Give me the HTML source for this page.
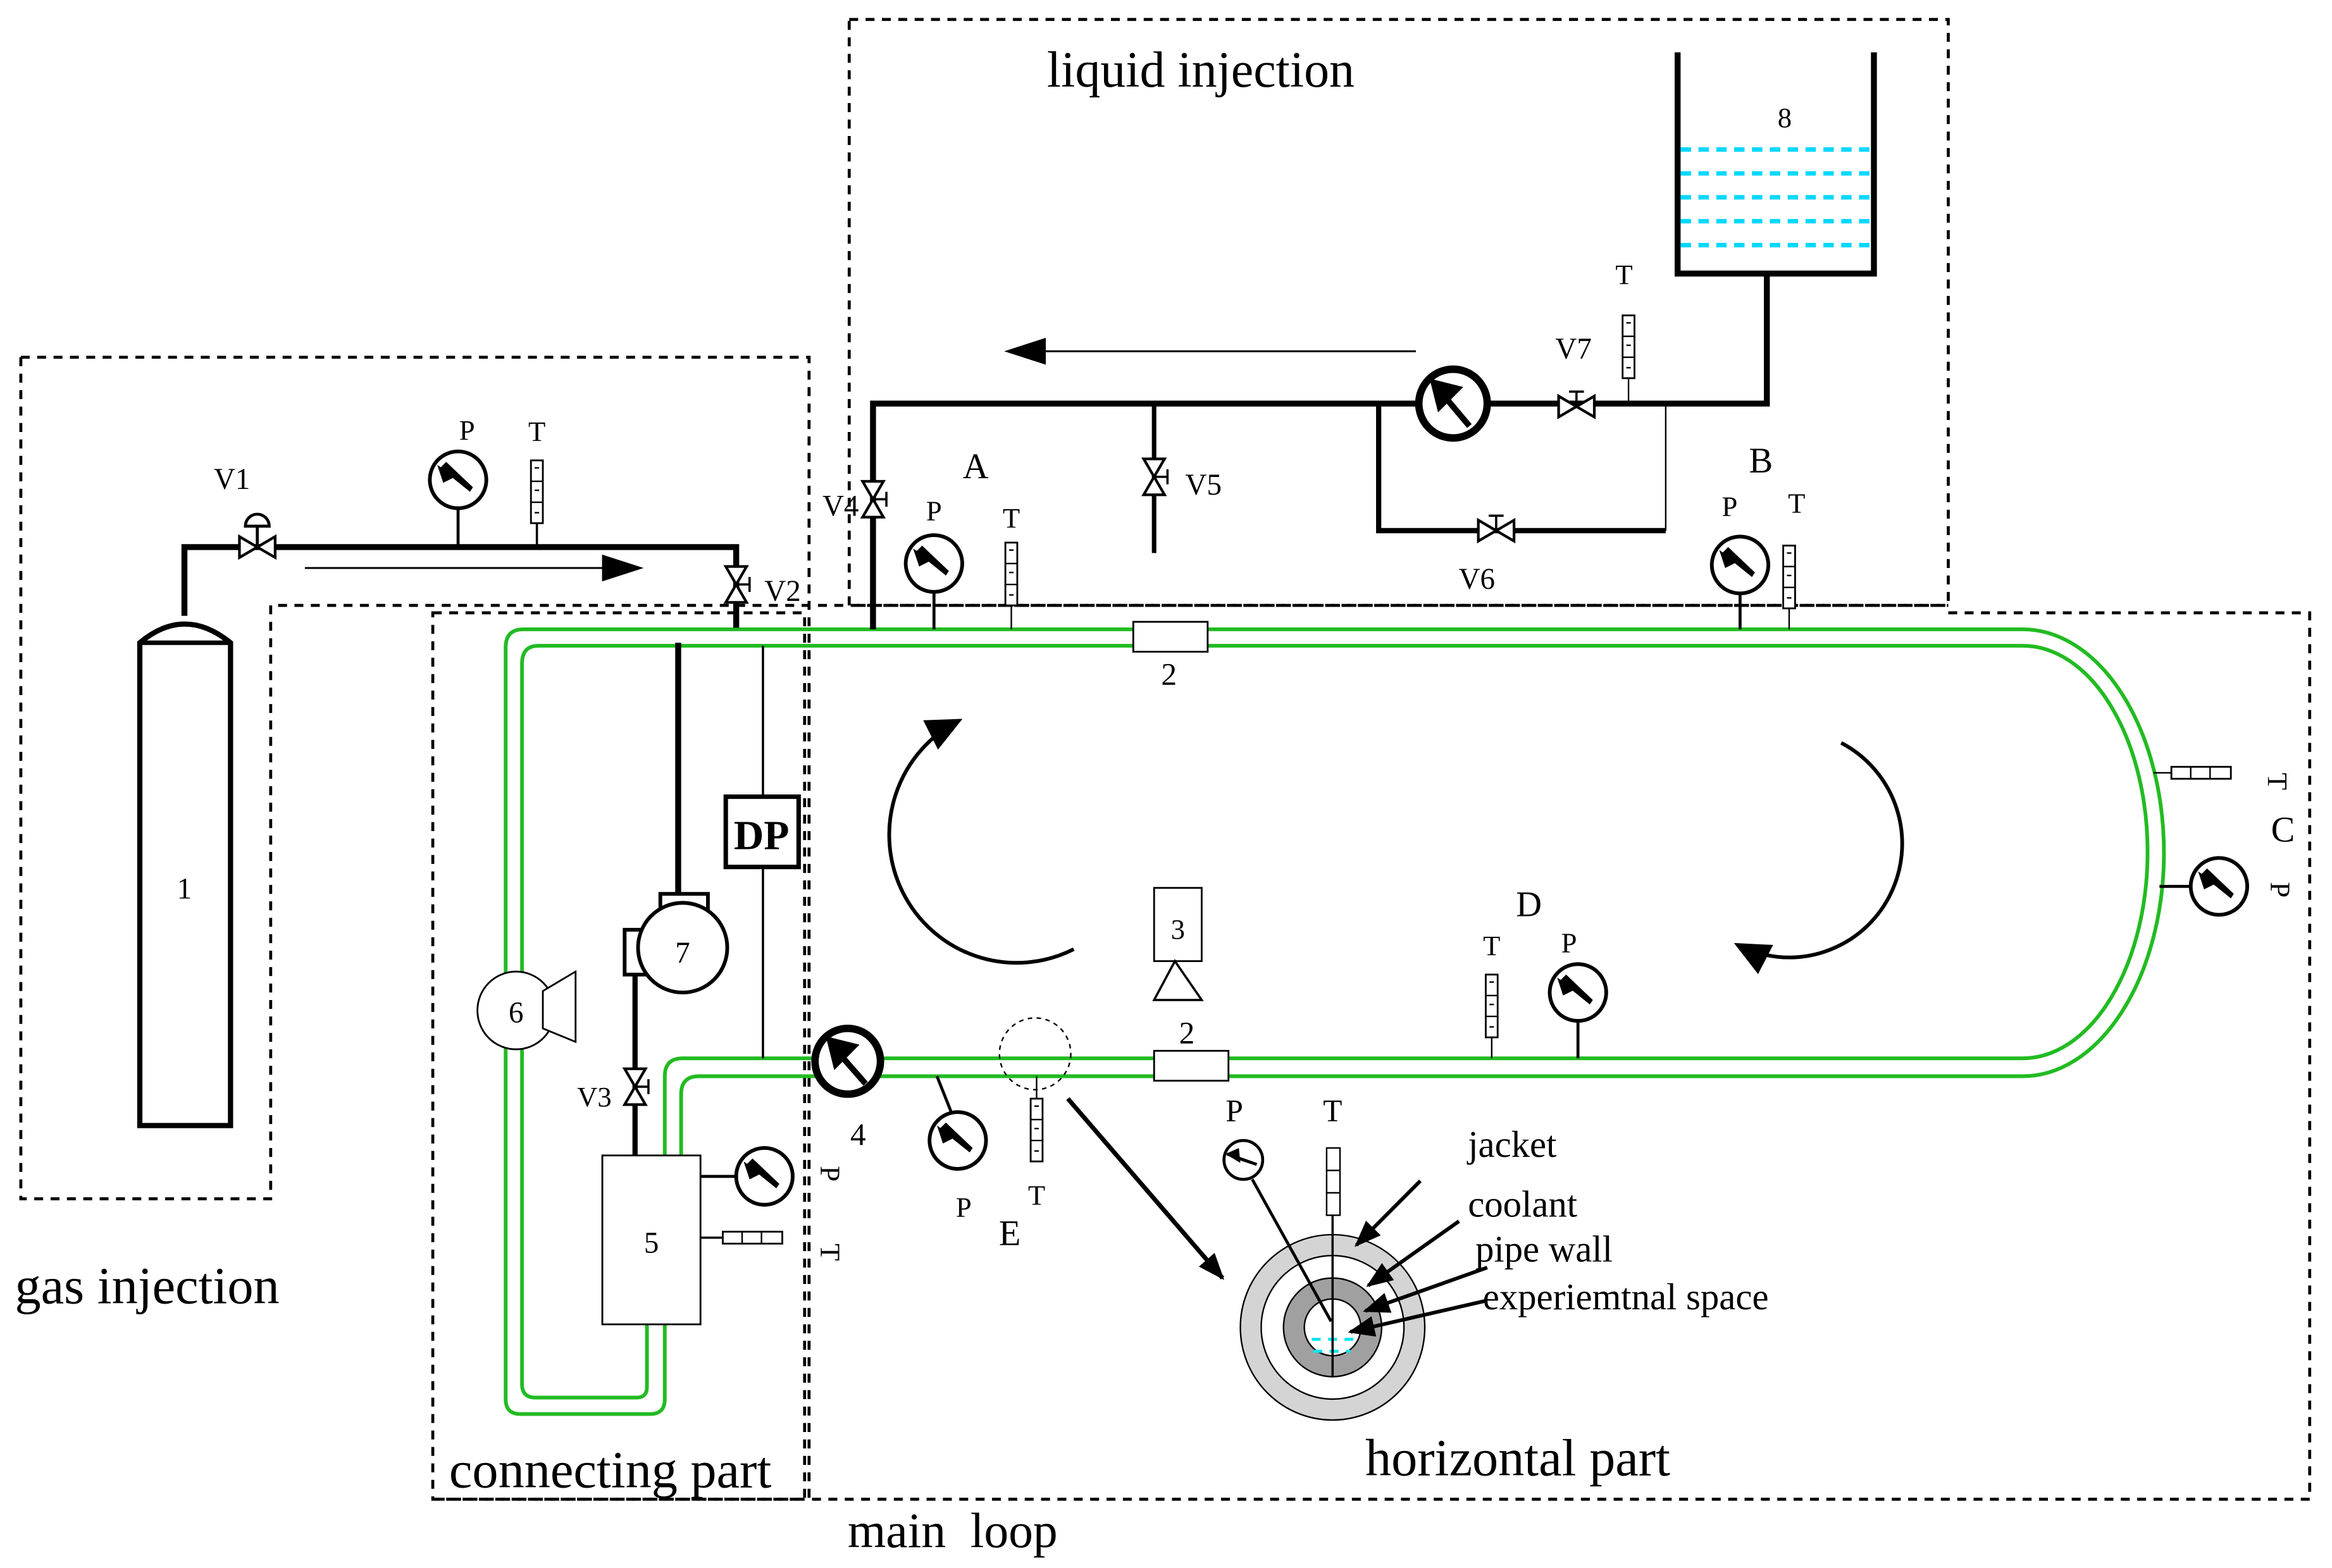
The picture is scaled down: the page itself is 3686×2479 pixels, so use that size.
<!DOCTYPE html>
<html><head><meta charset="utf-8"><style>html,body{margin:0;padding:0;background:#fff;width:3686px;height:2479px;overflow:hidden}svg{display:block}text{font-family:"Liberation Serif",serif;fill:#000}</style></head>
<body>
<svg width="3686" height="2479" viewBox="0 0 1568 1049" preserveAspectRatio="none" xmlns="http://www.w3.org/2000/svg">
<defs>
<marker id="ah" viewBox="0 0 10 10" refX="9" refY="5" markerWidth="28" markerHeight="18" preserveAspectRatio="none" orient="auto" markerUnits="userSpaceOnUse"><path d="M0,0 L10,5 L0,10z"/></marker>
<marker id="ab" viewBox="0 0 10 10" refX="9" refY="5" markerWidth="24" markerHeight="22" preserveAspectRatio="none" orient="auto" markerUnits="userSpaceOnUse"><path d="M0,0 L10,5 L0,10z"/></marker>
<marker id="as" viewBox="0 0 10 10" refX="9" refY="5" markerWidth="18" markerHeight="14" preserveAspectRatio="none" orient="auto" markerUnits="userSpaceOnUse"><path d="M0,0 L10,5 L0,10z"/></marker>
<g id="gauge"><circle r="19" fill="#fff" stroke="#000" stroke-width="2.5"/><path d="M-12,-8 L8,8 L10,5 L-8,-12z" fill="#000"/><path d="M-14,-10 L-2,-2 L-10,2z" fill="#000"/></g>
<g id="therm"><rect x="-4" y="0" width="8" height="42" fill="#fff" stroke="#000" stroke-width="1.2"/><line x1="-4" y1="14" x2="4" y2="14" stroke="#000"/><line x1="-4" y1="28" x2="4" y2="28" stroke="#000"/><line x1="-1.5" y1="5" x2="1.5" y2="5" stroke="#000"/><line x1="-1.5" y1="20" x2="1.5" y2="20" stroke="#000"/><line x1="-1.5" y1="35" x2="1.5" y2="35" stroke="#000"/></g>
<g id="thermh"><rect x="0" y="-4" width="40" height="8" fill="#fff" stroke="#000" stroke-width="1.2"/><line x1="13" y1="-4" x2="13" y2="4" stroke="#000"/><line x1="26" y1="-4" x2="26" y2="4" stroke="#000"/></g>
<g id="valveh"><path d="M-12,-7 L12,7 L12,-7 L-12,7z" fill="#fff" stroke="#000" stroke-width="1.8"/></g>
<g id="valvev"><path d="M-7,-12 L7,12 L-7,12 L7,-12z" fill="#fff" stroke="#000" stroke-width="1.8"/><line x1="0" y1="0" x2="9" y2="0" stroke="#000" stroke-width="1.5"/><line x1="9" y1="-5" x2="9" y2="5" stroke="#000" stroke-width="1.5"/></g>
</defs>

<!-- dashed boxes -->
<g fill="none" stroke="#000" stroke-width="2" stroke-dasharray="6,5">
<rect x="571" y="13" width="739" height="392"/>
<path d="M14,239 H544 V1003 M14,239 V802 H182 V405 H1310"/>
<rect x="291" y="410" width="250" height="593"/>
<path d="M1310,410 H1553 V1003 H291"/>
</g>

<!-- green pipes -->
<g fill="none" stroke="#22bb22" stroke-width="2.5">
<path d="M1360,421 H352 Q340,421 340,433 V936 Q340,946 350,946 H437 Q447,946 447,936 V886"/>
<path d="M1360,432 H362 Q351,432 351,444 V926 Q351,935 360,935 H428 Q435,935 435,928 V886"/>
<path d="M1360,421 A95,149.5 0 0 1 1360,720 H470 Q458,720 458,732 V775"/>
<path d="M1360,432 A84,138 0 0 1 1360,708 H459 Q447,708 447,720 V775"/>
</g>
<rect x="405" y="773" width="66" height="113" fill="#fff" stroke="#000" stroke-width="1.2"/>
<text x="438" y="838" font-size="20" text-anchor="middle">5</text>

<!-- gas injection -->
<path d="M94,430 Q124,405 155,430 V753 H94z" fill="#fff" stroke="#000" stroke-width="3.5"/>
<line x1="94" y1="430" x2="155" y2="430" stroke="#000" stroke-width="3"/>
<text x="124" y="601" font-size="20" text-anchor="middle">1</text>
<path d="M124,412 V366 H495 V420" fill="none" stroke="#000" stroke-width="4"/>
<use href="#valveh" x="173" y="366"/><line x1="173" y1="366" x2="173" y2="352" stroke="#000" stroke-width="2"/><path d="M165,352 A8,8 0 0 1 181,352z" fill="#fff" stroke="#000" stroke-width="2"/>
<text x="156" y="327" font-size="20" text-anchor="middle">V1</text>
<line x1="308" y1="340" x2="308" y2="366" stroke="#000" stroke-width="2"/><use href="#gauge" x="308" y="321"/><text x="314" y="294" font-size="19" text-anchor="middle">P</text>
<line x1="361" y1="350" x2="361" y2="366" stroke="#000" stroke-width="1.5"/><use href="#therm" x="361" y="308"/><text x="361" y="295" font-size="19" text-anchor="middle">T</text>
<line x1="205" y1="380" x2="430" y2="380" stroke="#000" stroke-width="1.3" marker-end="url(#ah)"/>
<path d="M495,380 V405" stroke="#000" stroke-width="4"/>
<use href="#valvev" x="495" y="391"/><text x="514" y="402" font-size="20">V2</text>
<text x="10" y="872" font-size="35">gas injection</text>

<!-- connecting part -->
<line x1="513" y1="432" x2="513" y2="708" stroke="#000" stroke-width="1.5"/>
<rect x="488" y="533" width="49" height="47" fill="#fff" stroke="#000" stroke-width="3"/>
<text x="512" y="568" font-size="28" font-weight="bold" text-anchor="middle">DP</text>
<line x1="456" y1="430" x2="456" y2="600" stroke="#000" stroke-width="4"/>
<rect x="444" y="598" width="32" height="14" fill="#fff" stroke="#000" stroke-width="2.5"/>
<rect x="420" y="622" width="14" height="30" fill="#fff" stroke="#000" stroke-width="2.5"/>
<circle cx="459" cy="634" r="30" fill="#fff" stroke="#000" stroke-width="2.5"/>
<text x="459" y="644" font-size="20" text-anchor="middle">7</text>
<line x1="427" y1="652" x2="427" y2="773" stroke="#000" stroke-width="3.5"/>
<use href="#valvev" x="427" y="727"/><text x="388" y="740" font-size="19">V3</text>
<circle cx="347" cy="676" r="26" fill="#fff" stroke="#000" stroke-width="1.2"/><text x="347" y="684" font-size="20" text-anchor="middle">6</text>
<path d="M365,663 L387,650 V697 L365,688z" fill="#fff" stroke="#000" stroke-width="1.2"/>
<line x1="471" y1="787" x2="495" y2="787" stroke="#000" stroke-width="2"/><use href="#gauge" x="514" y="787"/>
<line x1="471" y1="828" x2="486" y2="828" stroke="#000" stroke-width="1.5"/><use href="#thermh" x="486" y="828"/>
<text x="552" y="780" font-size="19" transform="rotate(90 552 780)">P</text>
<text x="552" y="832" font-size="19" transform="rotate(90 552 832)">T</text>
<text x="302" y="995" font-size="35">connecting part</text>
<text x="570" y="1035" font-size="33" xml:space="preserve">main  loop</text>

<!-- horizontal part -->
<circle cx="570" cy="710" r="22" fill="#fff" stroke="#000" stroke-width="5"/>
<path d="M560,700 L582,725 M558,696 L574,700 L562,712z" stroke="#000" stroke-width="4" fill="#000"/>
<text x="577" y="766" font-size="21" text-anchor="middle">4</text>
<line x1="630" y1="720" x2="640" y2="745" stroke="#000" stroke-width="2"/><use href="#gauge" x="644" y="763"/>
<use href="#therm" x="697" y="735"/><line x1="697" y1="720" x2="697" y2="735" stroke="#000"/>
<circle cx="696" cy="705" r="24" fill="none" stroke="#000" stroke-width="1" stroke-dasharray="3,3"/>
<line x1="718" y1="735" x2="822" y2="855" stroke="#000" stroke-width="3" marker-end="url(#as)"/>
<text x="648" y="814" font-size="19" text-anchor="middle">P</text><text x="679" y="833" font-size="24" text-anchor="middle">E</text><text x="697" y="806" font-size="19" text-anchor="middle">T</text>
<rect x="762" y="416" width="50" height="20" fill="#fff" stroke="#000" stroke-width="1.2"/><text x="786" y="458" font-size="21" text-anchor="middle">2</text>
<rect x="776" y="703" width="50" height="20" fill="#fff" stroke="#000" stroke-width="1.2"/><text x="798" y="698" font-size="21" text-anchor="middle">2</text>
<rect x="776" y="594" width="32" height="49" fill="#fff" stroke="#000" stroke-width="1.2"/><text x="792" y="628" font-size="19" text-anchor="middle">3</text>
<path d="M790,643 L776,669 H808z" fill="#fff" stroke="#000" stroke-width="1.5"/>
<path d="M722,635 A75,75 0 0 1 645,482" fill="none" stroke="#000" stroke-width="2.5" marker-end="url(#ab)"/>
<path d="M1238,497 A75,75 0 0 1 1168,632" fill="none" stroke="#000" stroke-width="2.5" marker-end="url(#ab)"/>
<line x1="1003" y1="692" x2="1003" y2="708" stroke="#000"/><use href="#therm" x="1003" y="652"/>
<line x1="1061" y1="683" x2="1061" y2="708" stroke="#000" stroke-width="2"/><use href="#gauge" x="1061" y="664"/>
<text x="1003" y="639" font-size="19" text-anchor="middle">T</text><text x="1055" y="637" font-size="19" text-anchor="middle">P</text><text x="1028" y="613" font-size="24" text-anchor="middle">D</text>
<line x1="1448" y1="517" x2="1460" y2="517" stroke="#000"/><use href="#thermh" x="1460" y="517"/>
<line x1="1452" y1="593" x2="1473" y2="593" stroke="#000" stroke-width="2"/><use href="#gauge" x="1492" y="593"/>
<text x="1525" y="517" font-size="19" transform="rotate(90 1525 517)">T</text><text x="1527" y="563" font-size="24">C</text><text x="1527" y="590" font-size="19" transform="rotate(90 1527 590)">P</text>
<!-- cross section -->
<circle cx="896" cy="888" r="62" fill="#d4d4d4" stroke="#000" stroke-width="1"/>
<circle cx="896" cy="888" r="48" fill="#fff" stroke="#000" stroke-width="1"/>
<circle cx="896" cy="888" r="33" fill="#a0a0a0" stroke="#000" stroke-width="1"/>
<circle cx="896" cy="888" r="19" fill="#fff" stroke="#000" stroke-width="1"/>
<path d="M882,896 H912" stroke="#00e5ee" stroke-width="2" stroke-dasharray="6,5"/>
<path d="M883,904 H908" stroke="#00e5ee" stroke-width="2" stroke-dasharray="6,5"/>
<line x1="896" y1="921" x2="896" y2="813" stroke="#000" stroke-width="1.5"/><rect x="892" y="768" width="9" height="45" fill="#fff" stroke="#000" stroke-width="1"/><line x1="892" y1="783" x2="901" y2="783" stroke="#000"/><line x1="892" y1="798" x2="901" y2="798" stroke="#000"/>
<line x1="842" y1="789" x2="895" y2="884" stroke="#000" stroke-width="2"/>
<circle cx="836" cy="776" r="13" fill="#fff" stroke="#000" stroke-width="2"/><path d="M833,775 L825,772 L845,779z" stroke="#000" stroke-width="2" fill="#000"/><path d="M824,772 L833,768 L834,778z" fill="#000"/>
<text x="830" y="750" font-size="21" text-anchor="middle">P</text><text x="896" y="750" font-size="21" text-anchor="middle">T</text>
<g stroke="#000" stroke-width="2.5" marker-end="url(#as)"><line x1="955" y1="790" x2="912" y2="833"/><line x1="981" y1="817" x2="920" y2="860"/><line x1="1000" y1="848" x2="918" y2="877"/><line x1="1000" y1="870" x2="908" y2="891"/></g>
<text x="987" y="774" font-size="25">jacket</text><text x="987" y="814" font-size="25">coolant</text><text x="992" y="844" font-size="25">pipe wall</text><text x="997" y="876" font-size="25">experiemtnal space</text>
<text x="918" y="987" font-size="35">horizontal part</text>

<!-- liquid injection -->
<text x="704" y="58" font-size="34">liquid injection</text>
<path d="M587,421 V270 H1188 V183 M1128,35 V183 H1260 V35" fill="none" stroke="#000" stroke-width="4"/>
<g stroke="#00d8ff" stroke-width="3" stroke-dasharray="7,5"><line x1="1130" y1="100" x2="1258" y2="100"/><line x1="1130" y1="116" x2="1258" y2="116"/><line x1="1130" y1="132" x2="1258" y2="132"/><line x1="1130" y1="148" x2="1258" y2="148"/><line x1="1130" y1="164" x2="1258" y2="164"/></g>
<text x="1200" y="85" font-size="19" text-anchor="middle">8</text>
<path d="M927,270 V355 H1120" fill="none" stroke="#000" stroke-width="3.5"/><line x1="1120" y1="355" x2="1120" y2="270" stroke="#000" stroke-width="1"/>
<use href="#valveh" x="1006" y="355"/><line x1="1006" y1="355" x2="1006" y2="345" stroke="#000" stroke-width="1.5"/><line x1="1001" y1="345" x2="1011" y2="345" stroke="#000" stroke-width="1.5"/>
<text x="993" y="394" font-size="20" text-anchor="middle">V6</text>
<use href="#valveh" x="1060" y="272"/><line x1="1060" y1="272" x2="1060" y2="262" stroke="#000" stroke-width="1.5"/><line x1="1055" y1="262" x2="1065" y2="262" stroke="#000" stroke-width="1.5"/>
<text x="1058" y="240" font-size="20" text-anchor="middle">V7</text>
<use href="#therm" x="1095" y="211"/><line x1="1095" y1="253" x2="1095" y2="270" stroke="#000"/><text x="1092" y="190" font-size="19" text-anchor="middle">T</text>
<circle cx="977" cy="270" r="23" fill="#fff" stroke="#000" stroke-width="5"/>
<path d="M966,259 L988,285 M964,256 L980,260 L968,272z" stroke="#000" stroke-width="4" fill="#000"/>
<line x1="952" y1="235" x2="678" y2="235" stroke="#000" stroke-width="1.3" marker-end="url(#ah)"/>
<line x1="776" y1="270" x2="776" y2="370" stroke="#000" stroke-width="3"/><use href="#valvev" x="776" y="319"/><text x="797" y="331" font-size="20">V5</text>
<use href="#valvev" x="587" y="334"/><text x="553" y="345" font-size="20">V4</text>
<line x1="628" y1="396" x2="628" y2="421" stroke="#000" stroke-width="2"/><use href="#gauge" x="628" y="377"/><text x="628" y="348" font-size="19" text-anchor="middle">P</text>
<line x1="680" y1="405" x2="680" y2="421" stroke="#000"/><use href="#therm" x="680" y="363"/><text x="680" y="353" font-size="19" text-anchor="middle">T</text>
<text x="656" y="320" font-size="24" text-anchor="middle">A</text>
<line x1="1170" y1="397" x2="1170" y2="421" stroke="#000" stroke-width="2"/><use href="#gauge" x="1170" y="378"/><text x="1163" y="345" font-size="19" text-anchor="middle">P</text>
<line x1="1203" y1="407" x2="1203" y2="421" stroke="#000"/><use href="#therm" x="1203" y="365"/><text x="1208" y="343" font-size="19" text-anchor="middle">T</text>
<text x="1184" y="316" font-size="24" text-anchor="middle">B</text>
</svg>
</body></html>
